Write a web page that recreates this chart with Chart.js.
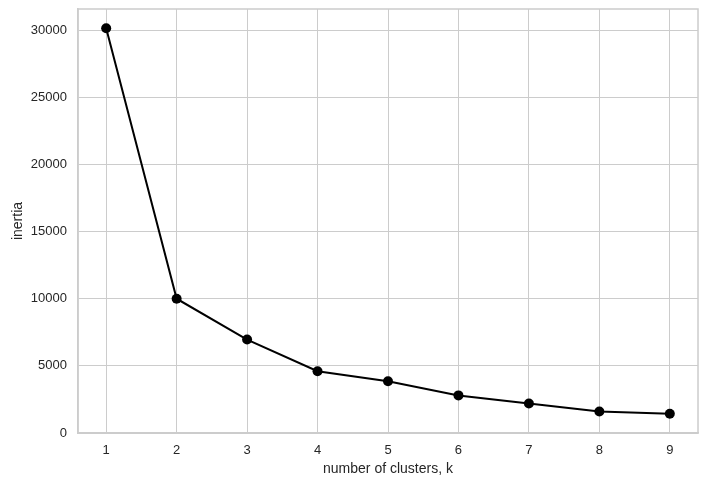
<!DOCTYPE html>
<html>
<head>
<meta charset="utf-8">
<script src="https://cdn.jsdelivr.net/npm/chart.js@4"></script>
<style>
  html, body { margin: 0; padding: 0; background: #fff; }
  #wrap { width: 708px; height: 486px; }
</style>
</head>
<body>
<div id="wrap"><canvas id="elbowChart"></canvas></div>
<script>
const clusters = [1, 2, 3, 4, 5, 6, 7, 8, 9];
const inertia = [30150, 10000, 6960, 4600, 3850, 2800, 2200, 1600, 1440];
const xTicks = [1, 2, 3, 4, 5, 6, 7, 8, 9];
const yTicks = [0, 5000, 10000, 15000, 20000, 25000, 30000];

const gridColor = '#cccccc';
const textColor = '#262626';

// frame on top and right like the matplotlib axes box
const frame = {
    id: 'frame',
    afterDraw(chart) {
        const a = chart.chartArea;
        const ctx = chart.ctx;
        ctx.save();
        ctx.strokeStyle = gridColor;
        ctx.lineWidth = 1.5;
        ctx.strokeRect(a.left, a.top, a.right - a.left, a.bottom - a.top);
        ctx.restore();
    }
};

function initElbowChart() {
    const ctx = document.getElementById('elbowChart').getContext('2d');
    new Chart(ctx, {
        type: 'line',
        data: {
            datasets: [{
                data: clusters.map((k, i) => ({ x: k, y: inertia[i] })),
                borderColor: '#000',
                backgroundColor: '#000',
                borderWidth: 2,
                pointRadius: 5,
                pointBorderWidth: 0,
                tension: 0
            }]
        },
        options: {
            responsive: true,
            maintainAspectRatio: false,
            animation: false,
            layout: { padding: { left: 10, top: 9, right: 10, bottom: 8 } },
            plugins: { legend: { display: false }, tooltip: { enabled: false } },
            scales: {
                x: {
                    type: 'linear',
                    min: 0.6,
                    max: 9.4,
                    afterBuildTicks: s => { s.ticks = xTicks.map(v => ({ value: v })); },
                    afterFit: s => { s.height = 45; },
                    grid: { color: gridColor, drawTicks: false },
                    border: { color: gridColor, width: 1.5 },
                    ticks: { color: textColor, padding: 10, font: { family: 'Liberation Sans', size: 13 }, callback: v => String(v) },
                    title: {
                        display: true,
                        text: 'number of clusters, k',
                        color: textColor,
                        padding: { top: 2, bottom: 0 },
                        font: { family: 'Liberation Sans', size: 14 }
                    }
                },
                y: {
                    min: 0,
                    max: 31580,
                    afterBuildTicks: s => { s.ticks = yTicks.map(v => ({ value: v })); },
                    afterFit: s => { s.width = 68; s.paddingTop = 0; s.paddingBottom = 0; },
                    grid: { color: gridColor, drawTicks: false },
                    border: { color: gridColor, width: 1.5 },
                    ticks: { color: textColor, padding: 11, font: { family: 'Liberation Sans', size: 13 }, callback: v => String(v) },
                    title: {
                        display: true,
                        text: 'inertia',
                        color: textColor,
                        padding: { top: 0, bottom: 4 },
                        font: { family: 'Liberation Sans', size: 14 }
                    }
                }
            }
        },
        plugins: [frame]
    });
}

initElbowChart();
</script>
</body>
</html>
